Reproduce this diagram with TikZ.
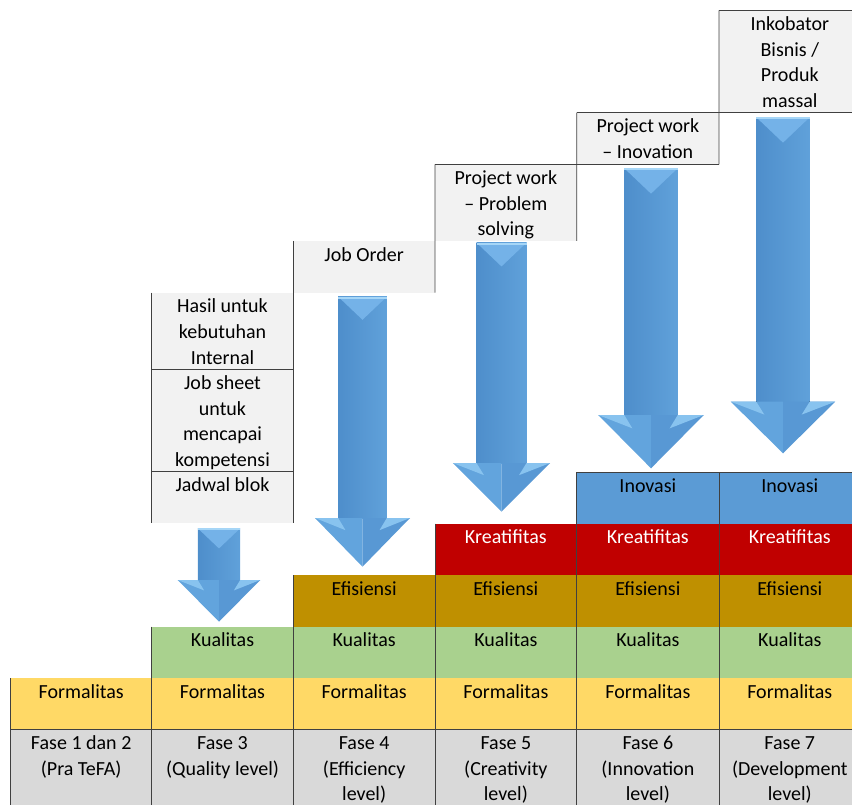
\documentclass[tikz,border=0pt]{standalone}
\usepackage{fontspec}
\setmainfont{Carlito}
\definecolor{topgray}{HTML}{F2F2F2}
\definecolor{fasegray}{HTML}{D9D9D9}
\definecolor{formY}{HTML}{FFD966}
\definecolor{kualG}{HTML}{A9D18E}
\definecolor{efisO}{HTML}{BF9000}
\definecolor{kreaR}{HTML}{C00000}
\definecolor{inovB}{HTML}{5B9BD5}
\definecolor{gridc}{HTML}{404040}
\definecolor{arrL}{HTML}{4E8ECB}
\definecolor{arrR}{HTML}{60A1DA}
\definecolor{arrHL}{HTML}{62A4DD}
\definecolor{arrHR}{HTML}{5898D4}
\definecolor{arrTop}{HTML}{74B2E8}
\definecolor{arrEdge}{HTML}{A6D6F7}
\definecolor{arrFacet}{HTML}{88C3EF}
\newcommand\mkcell[8]{%
  \node[cellbox, fill=#6, minimum width=#4pt, minimum height=#5pt] (#1) at (#2,#3) {};
  \node[celltext, text=#8] (#1t) at ([yshift=-2.08pt]#1.north) {\strut #7};}
\newcommand\blkarrow[6]{%
  \fill[left color=arrL, right color=arrR] ({#1-#5},{#2}) rectangle ({#1+#5},{#3});
  \fill[arrTop] ({#1-#5},{#2}) -- ({#1+#5},{#2}) -- ({#1},{#2+0.95*#5}) -- cycle;
  \fill[arrEdge] ({#1-#5},{#2}) rectangle ({#1+#5},{#2+2});
  \fill[arrHL] ({#1-#6},{#3}) -- ({#1},{#3}) -- ({#1},{#4}) -- cycle;
  \fill[arrHR] ({#1},{#3}) -- ({#1+#6},{#3}) -- ({#1},{#4}) -- cycle;
  \fill[arrFacet] ({#1-#6},{#3}) -- ({#1-#5},{#3}) -- ({#1-0.7*#5},{#3+0.25*(#4-#3)}) -- cycle;
  \fill[arrFacet] ({#1+#6},{#3}) -- ({#1+#5},{#3}) -- ({#1+0.7*#5},{#3+0.25*(#4-#3)}) -- cycle;}
\begin{document}
\begin{tikzpicture}[x=1pt,y=-1pt,
  cellbox/.style={rectangle, draw=none, inner sep=0pt, outer sep=0pt, anchor=north west},
  celltext/.style={anchor=north, inner sep=0pt, align=center,
    font=\fontsize{20}{25.6}\selectfont},
  gridline/.style={draw=gridc, line width=0.9pt}]
\useasboundingbox (0,0) rectangle (852,805);
\clip (0,0) rectangle (852,805);
% ---- bottom table ----
\mkcell{fa0}{10.7}{729.3}{141}{82}{fasegray}{Fase 1 dan 2\\(Pra TeFA)}{black}
\mkcell{fa1}{151.7}{729.3}{141.6}{82}{fasegray}{Fase 3\\(Quality level)}{black}
\mkcell{fa2}{293.3}{729.3}{141.7}{82}{fasegray}{Fase 4\\(Efficiency\\level)}{black}
\mkcell{fa3}{435}{729.3}{141.7}{82}{fasegray}{Fase 5\\(Creativity\\level)}{black}
\mkcell{fa4}{576.7}{729.3}{142.3}{82}{fasegray}{Fase 6\\(Innovation\\level)}{black}
\mkcell{fa5}{719}{729.3}{141.6}{82}{fasegray}{Fase 7\\(Development\\level)}{black}
\mkcell{fo0}{10.7}{678}{141}{51.3}{formY}{Formalitas}{black}
\mkcell{fo1}{151.7}{678}{141.6}{51.3}{formY}{Formalitas}{black}
\mkcell{fo2}{293.3}{678}{141.7}{51.3}{formY}{Formalitas}{black}
\mkcell{fo3}{435}{678}{141.7}{51.3}{formY}{Formalitas}{black}
\mkcell{fo4}{576.7}{678}{142.3}{51.3}{formY}{Formalitas}{black}
\mkcell{fo5}{719}{678}{141.6}{51.3}{formY}{Formalitas}{black}
\mkcell{ku1}{151.7}{626.7}{141.6}{51.3}{kualG}{Kualitas}{black}
\mkcell{ku2}{293.3}{626.7}{141.7}{51.3}{kualG}{Kualitas}{black}
\mkcell{ku3}{435}{626.7}{141.7}{51.3}{kualG}{Kualitas}{black}
\mkcell{ku4}{576.7}{626.7}{142.3}{51.3}{kualG}{Kualitas}{black}
\mkcell{ku5}{719}{626.7}{141.6}{51.3}{kualG}{Kualitas}{black}
\mkcell{ef2}{293.3}{575}{141.7}{51.7}{efisO}{Efisiensi}{black}
\mkcell{ef3}{435}{575}{141.7}{51.7}{efisO}{Efisiensi}{black}
\mkcell{ef4}{576.7}{575}{142.3}{51.7}{efisO}{Efisiensi}{black}
\mkcell{ef5}{719}{575}{141.6}{51.7}{efisO}{Efisiensi}{black}
\mkcell{kr3}{435}{523.5}{141.7}{51.5}{kreaR}{Kreatifitas}{white}
\mkcell{kr4}{576.7}{523.5}{142.3}{51.5}{kreaR}{Kreatifitas}{white}
\mkcell{kr5}{719}{523.5}{141.6}{51.5}{kreaR}{Kreatifitas}{white}
\mkcell{in4}{576.7}{472}{142.3}{51.5}{inovB}{Inovasi}{black}
\mkcell{in5}{719}{472}{141.6}{51.5}{inovB}{Inovasi}{black}
% ---- top boxes ----
\mkcell{hasil}{151.7}{292.7}{141.6}{76.6}{topgray}{Hasil untuk\\kebutuhan\\Internal}{black}
\mkcell{jobsheet}{151.7}{369.3}{141.6}{102.4}{topgray}{Job sheet\\untuk\\mencapai\\kompetensi}{black}
\mkcell{jadwal}{151.7}{471.7}{141.6}{51}{topgray}{Jadwal blok}{black}
\mkcell{joborder}{293.3}{241}{141.7}{51.7}{topgray}{Job Order}{black}
\mkcell{probsolv}{435}{164.3}{141.7}{76.7}{topgray}{Project work\\– Problem\\solving}{black}
\mkcell{projinov}{576.7}{112.7}{142.3}{51.6}{topgray}{Project work\\– Inovation}{black}
\mkcell{inkob}{719}{10.3}{141.6}{102.4}{topgray}{Inkobator\\Bisnis /\\Produk\\massal}{black}
% ---- grid lines ----
\draw[gridline] (fo0.north west) -- (fa0.south west);
\draw[gridline] (hasil.north west) -- (jadwal.south west);
\draw[gridline] (ku1.north west) -- (fa1.south west);
\draw[gridline] (joborder.north west) -- (jadwal.south east);
\draw[gridline] (ef2.north west) -- (fa2.south west);
\draw[gridline] (probsolv.north west) -- (joborder.south east);
\draw[gridline] (kr3.north west) -- (fa3.south west);
\draw[gridline] (projinov.north west) -- (probsolv.south east);
\draw[gridline] (in4.north west) -- (fa4.south west);
\draw[gridline] (inkob.north west) -- (projinov.south east);
\draw[gridline] (in5.north west) -- (fa5.south west);
\draw[gridline] (fa0.north west) -- (fa5.north east);
\draw[gridline] (in4.north west) -- (in5.north east);
\draw[gridline] (jobsheet.north west) -- (jobsheet.north east);
\draw[gridline] (jadwal.north west) -- (jadwal.north east);
\draw[gridline] (probsolv.north west) -- (projinov.south east);
\draw[gridline] (projinov.north west) -- (inkob.south east);
\draw[gridline] (inkob.north west) -- (inkob.north east);
% ---- block arrows ----
\blkarrow{219}{528.3}{580}{621.7}{21.2}{41.3}
\blkarrow{362.5}{296.7}{518}{566.7}{24.3}{47.5}
\blkarrow{501.5}{242.7}{463}{511.7}{25}{48.7}
\blkarrow{651}{168.3}{415}{468.3}{26.7}{52.8}
\blkarrow{783}{117.3}{401.7}{453.3}{26.7}{52.2}
\end{tikzpicture}
\end{document}
